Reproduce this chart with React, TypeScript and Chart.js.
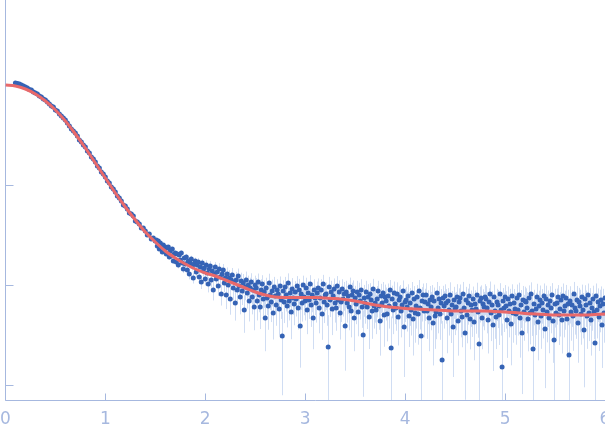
import React, { useEffect, useRef } from "react";
import { Chart, registerables } from "chart.js";

Chart.register(...registerables);

// scattering vector q (x axis)
const qData: number[] = [
  0.10,0.12,0.14,0.16,0.18,0.20,0.22,0.24,0.26,0.28,
  0.30,0.32,0.34,0.36,0.38,0.40,0.42,0.44,0.46,0.48,
  0.50,0.52,0.54,0.56,0.58,0.60,0.62,0.64,0.66,0.68,
  0.70,0.72,0.74,0.76,0.78,0.80,0.82,0.84,0.86,0.88,
  0.90,0.92,0.94,0.96,0.98,1.00,1.02,1.04,1.06,1.08,
  1.10,1.12,1.14,1.16,1.18,1.20,1.22,1.24,1.26,1.28,
  1.30,1.32,1.34,1.36,1.38,1.40,1.42,1.44,1.46,1.48,
  1.50,
  1.51,1.52,1.53,1.54,1.55,1.56,1.57,1.58,1.59,1.60,
  1.61,1.62,1.63,1.64,1.65,1.66,1.67,1.68,1.69,1.70,
  1.71,1.72,1.73,1.74,1.75,1.76,1.77,1.78,1.79,1.80,
  1.81,1.82,1.83,1.84,1.85,1.86,1.87,1.88,1.89,1.90,
  1.91,1.92,1.93,1.94,1.95,1.96,1.97,1.98,1.99,2.00,
  2.01,2.02,2.03,2.04,2.05,2.06,2.07,2.08,2.09,2.10,
  2.11,2.12,2.13,2.14,2.15,2.16,2.17,2.18,2.19,2.20,
  2.21,2.22,2.23,2.24,2.25,2.26,2.27,2.28,2.29,2.30,
  2.31,2.32,2.33,2.34,2.35,2.36,2.37,2.38,2.39,2.40,
  2.41,2.42,2.43,2.44,2.45,2.46,2.47,2.48,2.49,2.50,
  2.51,2.52,2.53,2.54,2.55,2.56,2.57,2.58,2.59,2.60,
  2.61,2.62,2.63,2.64,2.65,2.66,2.67,2.68,2.69,2.70,
  2.71,2.72,2.73,2.74,2.75,2.76,2.77,2.78,2.79,2.80,
  2.81,2.82,2.83,2.84,2.85,2.86,2.87,2.88,2.89,2.90,
  2.91,2.92,2.93,2.94,2.95,2.96,2.97,2.98,2.99,3.00,
  3.01,3.02,3.03,3.04,3.05,3.06,3.07,3.08,3.09,3.10,
  3.11,3.12,3.13,3.14,3.15,3.16,3.17,3.18,3.19,3.20,
  3.21,3.22,3.23,3.24,3.25,3.26,3.27,3.28,3.29,3.30,
  3.31,3.32,3.33,3.34,3.35,3.36,3.37,3.38,3.39,3.40,
  3.41,3.42,3.43,3.44,3.45,3.46,3.47,3.48,3.49,3.50,
  3.51,3.52,3.53,3.54,3.55,3.56,3.57,3.58,3.59,3.60,
  3.61,3.62,3.63,3.64,3.65,3.66,3.67,3.68,3.69,3.70,
  3.71,3.72,3.73,3.74,3.75,3.76,3.77,3.78,3.79,3.80,
  3.81,3.82,3.83,3.84,3.85,3.86,3.87,3.88,3.89,3.90,
  3.91,3.92,3.93,3.94,3.95,3.96,3.97,3.98,3.99,4.00,
  4.01,4.02,4.03,4.04,4.05,4.06,4.07,4.08,4.09,4.10,
  4.11,4.12,4.13,4.14,4.15,4.16,4.17,4.18,4.19,4.20,
  4.21,4.22,4.23,4.24,4.25,4.26,4.27,4.28,4.29,4.30,
  4.31,4.32,4.33,4.34,4.35,4.36,4.37,4.38,4.39,4.40,
  4.41,4.42,4.43,4.44,4.45,4.46,4.47,4.48,4.49,4.50,
  4.51,4.52,4.53,4.54,4.55,4.56,4.57,4.58,4.59,4.60,
  4.61,4.62,4.63,4.64,4.65,4.66,4.67,4.68,4.69,4.70,
  4.71,4.72,4.73,4.74,4.75,4.76,4.77,4.78,4.79,4.80,
  4.81,4.82,4.83,4.84,4.85,4.86,4.87,4.88,4.89,4.90,
  4.91,4.92,4.93,4.94,4.95,4.96,4.97,4.98,4.99,5.00,
  5.01,5.02,5.03,5.04,5.05,5.06,5.07,5.08,5.09,5.10,
  5.11,5.12,5.13,5.14,5.15,5.16,5.17,5.18,5.19,5.20,
  5.21,5.22,5.23,5.24,5.25,5.26,5.27,5.28,5.29,5.30,
  5.31,5.32,5.33,5.34,5.35,5.36,5.37,5.38,5.39,5.40,
  5.41,5.42,5.43,5.44,5.45,5.46,5.47,5.48,5.49,5.50,
  5.51,5.52,5.53,5.54,5.55,5.56,5.57,5.58,5.59,5.60,
  5.61,5.62,5.63,5.64,5.65,5.66,5.67,5.68,5.69,5.70,
  5.71,5.72,5.73,5.74,5.75,5.76,5.77,5.78,5.79,5.80,
  5.81,5.82,5.83,5.84,5.85,5.86,5.87,5.88,5.89,5.90,
  5.91,5.92,5.93,5.94,5.95,5.96,5.97,5.98,5.99,6.00,
];

// log10 intensity of each measured point
const logIntensity: number[] = [
  0.02,0.015,0.01,0.0,-0.01,-0.02,-0.03,-0.045,-0.05,-0.07,
  -0.08,-0.09,-0.11,-0.12,-0.14,-0.15,-0.17,-0.19,-0.21,-0.22,
  -0.25,-0.26,-0.29,-0.31,-0.33,-0.35,-0.38,-0.41,-0.44,-0.46,
  -0.48,-0.51,-0.55,-0.57,-0.60,-0.62,-0.66,-0.68,-0.72,-0.74,
  -0.77,-0.81,-0.83,-0.87,-0.89,-0.92,-0.96,-0.98,-1.02,-1.04,
  -1.07,-1.11,-1.13,-1.16,-1.20,-1.21,-1.24,-1.28,-1.29,-1.31,
  -1.36,-1.37,-1.39,-1.43,-1.43,-1.46,-1.50,-1.49,-1.54,-1.53,
  -1.56,
  -1.55,-1.61,-1.56,-1.64,-1.58,-1.60,-1.67,-1.60,-1.65,-1.62,
  -1.69,-1.63,-1.62,-1.72,-1.66,-1.71,-1.64,-1.76,-1.69,-1.68,
  -1.77,-1.69,-1.80,-1.70,-1.75,-1.68,-1.78,-1.84,-1.73,-1.79,
  -1.72,-1.85,-1.76,-1.89,-1.78,-1.74,-1.81,-1.93,-1.79,-1.76,
  -1.87,-1.80,-1.77,-1.92,-1.82,-1.97,-1.78,-1.86,-1.83,-1.94,
  -1.80,-1.88,-1.99,-1.84,-1.81,-1.95,-1.86,-2.05,-1.89,-1.82,
  -1.94,-1.87,-2.01,-1.84,-1.92,-2.09,-1.89,-1.85,-1.98,-1.93,
  -2.10,-1.89,-2.00,-1.93,-2.14,-1.95,-1.90,-2.03,-1.97,-2.18,
  -1.95,-2.05,-1.91,-2.01,-2.12,-1.96,-2.06,-1.98,-2.25,-2.02,
  -1.95,-2.08,-2.00,-2.16,-2.03,-1.97,-2.12,-2.05,-2.22,-2.00,
  -2.03,-2.16,-1.97,-2.10,-2.22,-2.05,-1.99,-2.14,-2.07,-2.33,
  -2.03,-2.13,-2.21,-1.98,-2.10,-2.17,-2.06,-2.28,-2.02,-2.11,
  -2.20,-2.05,-2.09,-2.24,-2.01,-2.15,-2.51,-2.06,-2.17,-2.02,
  -2.10,-2.21,-1.98,-2.16,-2.08,-2.27,-2.04,-2.13,-2.19,-2.07,
  -2.14,-2.01,-2.23,-2.05,-2.41,-2.09,-2.18,-2.00,-2.12,-2.16,
  -2.03,-2.25,-2.08,-2.15,-1.99,-2.20,-2.10,-2.33,-2.05,-2.13,
  -2.18,-2.08,-2.03,-2.23,-2.13,-2.05,-2.29,-1.99,-2.17,-2.10,
  -2.09,-2.20,-2.62,-2.02,-2.15,-2.07,-2.24,-2.11,-2.04,-2.18,
  -2.23,-2.01,-2.15,-2.07,-2.28,-2.17,-2.04,-2.14,-2.09,-2.41,
  -2.07,-2.18,-2.11,-2.22,-2.02,-2.26,-2.10,-2.06,-2.33,-2.13,
  -2.19,-2.07,-2.27,-2.10,-2.16,-2.05,-2.22,-2.50,-2.13,-2.18,
  -2.07,-2.22,-2.12,-2.32,-2.09,-2.15,-2.26,-2.04,-2.21,-2.18,
  -2.25,-2.14,-2.06,-2.21,-2.36,-2.11,-2.18,-2.08,-2.30,-2.12,
  -2.16,-2.29,-2.11,-2.21,-2.05,-2.63,-2.14,-2.25,-2.08,-2.19,
  -2.23,-2.09,-2.32,-2.15,-2.12,-2.26,-2.20,-2.06,-2.42,-2.17,
  -2.15,-2.22,-2.11,-2.31,-2.18,-2.25,-2.08,-2.34,-2.14,-2.28,
  -2.21,-2.12,-2.29,-2.06,-2.23,-2.51,-2.16,-2.10,-2.26,-2.17,
  -2.10,-2.26,-2.19,-2.33,-2.15,-2.22,-2.12,-2.38,-2.16,-2.31,
  -2.27,-2.08,-2.23,-2.14,-2.29,-2.18,-2.75,-2.13,-2.21,-2.11,
  -2.18,-2.33,-2.16,-2.25,-2.10,-2.29,-2.20,-2.42,-2.15,-2.24,
  -2.22,-2.12,-2.36,-2.17,-2.13,-2.26,-2.32,-2.09,-2.23,-2.48,
  -2.15,-2.30,-2.18,-2.11,-2.34,-2.20,-2.25,-2.14,-2.37,-2.19,
  -2.24,-2.10,-2.27,-2.59,-2.16,-2.13,-2.33,-2.19,-2.22,-2.12,
  -2.14,-2.23,-2.35,-2.17,-2.09,-2.28,-2.20,-2.40,-2.12,-2.26,
  -2.32,-2.17,-2.20,-2.30,-2.09,-2.25,-2.82,-2.16,-2.23,-2.12,
  -2.21,-2.35,-2.14,-2.26,-2.19,-2.39,-2.11,-2.28,-2.18,-2.24,
  -2.29,-2.13,-2.25,-2.10,-2.33,-2.20,-2.48,-2.15,-2.27,-2.16,
  -2.17,-2.23,-2.34,-2.13,-2.28,-2.09,-2.26,-2.64,-2.19,-2.30,
  -2.24,-2.12,-2.37,-2.21,-2.15,-2.31,-2.18,-2.25,-2.11,-2.44,
  -2.14,-2.27,-2.20,-2.33,-2.16,-2.23,-2.10,-2.36,-2.55,-2.19,
  -2.28,-2.18,-2.12,-2.30,-2.24,-2.15,-2.35,-2.11,-2.26,-2.21,
  -2.13,-2.34,-2.19,-2.70,-2.16,-2.27,-2.20,-2.31,-2.09,-2.23,
  -2.26,-2.15,-2.38,-2.17,-2.21,-2.29,-2.12,-2.25,-2.45,-2.14,
  -2.20,-2.31,-2.10,-2.28,-2.18,-2.35,-2.23,-2.14,-2.27,-2.58,
  -2.11,-2.25,-2.17,-2.32,-2.21,-2.15,-2.40,-2.19,-2.28,-2.13,
];

// absolute intensity uncertainty of each point (x 1e-3)
const sigmaMilli: number[] = [
  9,9,9,8,8,8,8,8,7,7,
  7,7,7,6,6,6,6,5,5,5,
  5,5,4,4,4,4,3,3,3,3,
  3,3,2,2,2,2,2,2,2,1.5,
  1.5,1.5,1.5,1.5,1.2,1.2,1.2,1.2,1,1,
  1,1,1,1,0.9,0.9,0.9,0.9,0.9,0.9,
  0.8,0.8,0.8,0.8,0.8,0.8,0.8,0.8,0.8,0.8,
  0.8,
  1.0,0.9,1.0,1.0,0.9,1.0,1.1,1.0,1.0,1.0,
  1.1,1.0,1.1,1.1,1.2,1.1,1.0,1.1,1.2,1.1,
  1.2,1.3,1.2,1.2,1.3,1.2,1.2,1.3,1.2,1.3,
  1.4,1.3,1.4,1.5,1.4,1.4,1.5,1.4,1.3,1.4,
  1.6,1.5,1.6,1.7,1.6,1.6,1.5,1.7,1.6,1.6,
  1.8,1.7,1.8,1.9,1.8,1.8,1.7,1.9,1.8,1.8,
  2.0,1.9,2.0,2.1,2.0,1.9,2.0,2.1,2.0,2.0,
  2.2,2.1,2.2,2.3,2.2,2.1,2.2,2.3,2.2,2.2,
  2.3,2.4,2.3,2.4,2.5,2.3,2.4,2.4,2.3,2.5,
  2.4,2.5,2.4,2.6,2.5,2.4,2.5,2.6,2.5,2.4,
  2.4,2.5,2.3,2.6,2.4,2.5,2.3,2.4,2.6,2.5,
  2.5,2.4,2.6,2.5,2.3,2.5,2.6,2.4,2.5,2.4,
  2.4,2.5,2.3,2.6,2.4,2.5,2.3,2.4,2.6,2.5,
  2.5,2.4,2.6,2.5,2.3,2.5,2.6,2.4,2.5,2.4,
  2.4,2.5,2.3,2.6,2.4,2.5,2.3,2.4,2.6,2.5,
  2.5,2.4,2.6,2.5,2.3,2.5,2.6,2.4,2.5,2.4,
  2.4,2.5,2.3,2.6,2.4,2.5,2.3,2.4,2.6,2.5,
  2.5,2.4,2.6,2.5,2.3,2.5,2.6,2.4,2.5,2.4,
  2.4,2.5,2.3,2.6,2.4,2.5,2.3,2.4,2.6,2.5,
  2.5,2.4,2.6,2.5,2.3,2.5,2.6,2.4,2.5,2.4,
  2.4,2.5,2.3,2.6,2.4,2.5,2.3,2.4,2.6,2.5,
  2.5,2.4,2.6,2.5,2.3,2.5,2.6,2.4,2.5,2.4,
  2.4,2.5,2.3,2.6,2.4,2.5,2.3,2.4,2.6,2.5,
  2.5,2.4,2.6,2.5,2.3,2.5,2.6,2.4,2.5,2.4,
  2.4,2.5,2.3,2.6,2.4,2.5,2.3,2.4,2.6,2.5,
  2.5,2.6,2.4,2.5,2.7,2.5,2.4,2.6,2.5,2.6,
  2.5,2.4,2.6,2.5,2.3,2.5,2.6,2.4,2.5,2.4,
  2.5,2.6,2.4,2.5,2.7,2.5,2.4,2.6,2.5,2.6,
  2.5,2.4,2.6,2.5,2.3,2.5,2.6,2.4,2.5,2.4,
  2.5,2.6,2.4,2.5,2.7,2.5,2.4,2.6,2.5,2.6,
  2.5,2.6,2.4,2.5,2.7,2.5,2.4,2.6,2.5,2.6,
  2.5,2.4,2.6,2.5,2.3,2.5,2.6,2.4,2.5,2.4,
  2.5,2.6,2.4,2.5,2.7,2.5,2.4,2.6,2.5,2.6,
  2.5,2.6,2.4,2.5,2.7,2.5,2.4,2.6,2.5,2.6,
  2.5,2.4,2.6,2.5,2.3,2.5,2.6,2.4,2.5,2.4,
  2.5,2.6,2.4,2.5,2.7,2.5,2.4,2.6,2.5,2.6,
  2.6,2.7,2.5,2.6,2.8,2.6,2.5,2.7,2.6,2.7,
  2.5,2.6,2.4,2.5,2.7,2.5,2.4,2.6,2.5,2.6,
  2.6,2.7,2.5,2.6,2.8,2.6,2.5,2.7,2.6,2.7,
  2.6,2.7,2.5,2.6,2.8,2.6,2.5,2.7,2.6,2.7,
  2.5,2.6,2.4,2.5,2.7,2.5,2.4,2.6,2.5,2.6,
  2.6,2.7,2.5,2.6,2.8,2.6,2.5,2.7,2.6,2.7,
  2.6,2.7,2.5,2.6,2.8,2.6,2.5,2.7,2.6,2.7,
  2.5,2.6,2.4,2.5,2.7,2.5,2.4,2.6,2.5,2.6,
  2.6,2.7,2.5,2.6,2.8,2.6,2.5,2.7,2.6,2.7,
];

// fitted model curve
const fitQ: number[] = [
  0.0,0.1,0.2,0.3,0.4,0.5,0.6,0.7,0.8,0.9,
  1.0,1.1,1.2,1.3,1.4,1.5,1.6,1.7,1.8,1.9,
  2.0,2.1,2.2,2.3,2.4,2.5,2.6,2.7,2.8,2.9,
  3.0,3.1,3.2,3.3,3.4,3.5,3.6,3.7,3.8,3.9,
  4.0,4.1,4.2,4.3,4.4,4.5,4.6,4.7,4.8,4.9,
  5.0,5.1,5.2,5.3,5.4,5.5,5.6,5.7,5.8,5.9,
  6.0,
];
const fitLogIntensity: number[] = [
  0,-0.01,-0.04,-0.09,-0.16,-0.25,-0.36,-0.49,-0.63,-0.78,
  -0.93,-1.08,-1.22,-1.35,-1.47,-1.57,-1.66,-1.73,-1.79,-1.84,
  -1.88,-1.91,-1.95,-1.99,-2.03,-2.07,-2.10,-2.12,-2.125,-2.125,
  -2.125,-2.125,-2.13,-2.135,-2.145,-2.16,-2.18,-2.20,-2.215,-2.225,
  -2.235,-2.24,-2.245,-2.25,-2.255,-2.26,-2.26,-2.26,-2.26,-2.265,
  -2.27,-2.275,-2.285,-2.29,-2.295,-2.30,-2.30,-2.30,-2.30,-2.295,
  -2.29,
];

const xTickValues: number[] = [0, 1, 2, 3, 4, 5, 6];
const yTickValues: number[] = [-3, -2, -1, 0];

const X_MIN = 0;
const X_MAX = 6;
const Y_MIN = -3.15;
const Y_MAX = 0.85;

const AXIS_COLOR = "#a6b8df";
const POINT_COLOR = "#3563b5";
const ERR_COLOR = "rgba(188,206,238,0.7)";
const FIT_COLOR = "#e9696a";

const axesPlugin = {
  id: "axesAndErrors",
  beforeDatasetsDraw(chart: any) {
    const { ctx, chartArea, scales } = chart;
    const xs = scales.x;
    const ys = scales.y;
    ctx.save();
    // error bars
    ctx.beginPath();
    ctx.rect(chartArea.left, chartArea.top, chartArea.right - chartArea.left, chartArea.bottom - chartArea.top);
    ctx.clip();
    ctx.strokeStyle = ERR_COLOR;
    ctx.lineWidth = 1;
    ctx.beginPath();
    for (let i = 0; i < qData.length; i++) {
      const inten = Math.pow(10, logIntensity[i]);
      const s = sigmaMilli[i] * 1e-3;
      const hi = Math.log10(inten + s);
      const lo = inten - s > 0 ? Math.log10(inten - s) : ys.min;
      const px = Math.round(xs.getPixelForValue(qData[i])) + 0.5;
      ctx.moveTo(px, ys.getPixelForValue(hi));
      ctx.lineTo(px, ys.getPixelForValue(lo));
    }
    ctx.stroke();
    ctx.restore();

    // axes with inward tick marks
    ctx.save();
    ctx.strokeStyle = AXIS_COLOR;
    ctx.lineWidth = 1;
    const left = Math.round(chartArea.left) + 0.5;
    const bottom = Math.round(chartArea.bottom) + 0.5;
    ctx.beginPath();
    ctx.moveTo(left, chartArea.top);
    ctx.lineTo(left, bottom);
    ctx.moveTo(left, bottom);
    ctx.lineTo(chartArea.right + 20, bottom);
    xTickValues.forEach((v) => {
      const px = Math.round(xs.getPixelForValue(v)) + 0.5;
      ctx.moveTo(px, bottom);
      ctx.lineTo(px, bottom - 7);
    });
    yTickValues.forEach((v) => {
      const py = Math.round(ys.getPixelForValue(v)) + 0.5;
      ctx.moveTo(left, py);
      ctx.lineTo(left + 8, py);
    });
    ctx.stroke();
    ctx.restore();
  },
};

export default function App() {
  const canvasRef = useRef<HTMLCanvasElement>(null);

  useEffect(() => {
    document.body.style.margin = "0";
    const canvas = canvasRef.current;
    if (!canvas) return;

    const points = qData.map((q, i) => ({ x: q, y: logIntensity[i] }));
    const fit = fitQ.map((q, i) => ({ x: q, y: fitLogIntensity[i] }));

    const chart = new Chart(canvas, {
      type: "scatter",
      data: {
        datasets: [
          {
            type: "line",
            label: "fit",
            data: fit,
            borderColor: FIT_COLOR,
            borderWidth: 3,
            pointRadius: 0,
            fill: false,
            cubicInterpolationMode: "monotone",
            order: 0,
          } as any,
          {
            type: "scatter",
            label: "data",
            data: points,
            backgroundColor: POINT_COLOR,
            borderWidth: 0,
            pointRadius: 2.5,
            order: 1,
          } as any,
        ],
      },
      options: {
        animation: false,
        responsive: false,
        devicePixelRatio: 1,
        layout: { autoPadding: false, padding: { left: 0, right: 35, top: 0, bottom: 0 } },
        plugins: {
          legend: { display: false },
          tooltip: { enabled: false },
        },
        scales: {
          x: {
            type: "linear",
            min: X_MIN,
            max: X_MAX,
            afterFit: (s: any) => {
              s.height = 38;
            },
            afterBuildTicks: (s: any) => {
              s.ticks = xTickValues.map((v) => ({ value: v }));
            },
            grid: { display: false, drawTicks: false },
            border: { display: false },
            ticks: {
              color: AXIS_COLOR,
              padding: 0,
              maxRotation: 0,
              autoSkip: false,
              font: { family: "DejaVu Sans", size: 17, lineHeight: 2.25 },
            },
          },
          y: {
            type: "linear",
            min: Y_MIN,
            max: Y_MAX,
            afterFit: (s: any) => {
              s.width = 5;
            },
            grid: { display: false, drawTicks: false },
            border: { display: false },
            ticks: { display: false },
          },
        },
      } as any,
      plugins: [axesPlugin],
    });

    return () => chart.destroy();
  }, []);

  return (
    <div style={{ width: 605, height: 438, overflow: "hidden" }}>
      <canvas ref={canvasRef} width={640} height={438} style={{ display: "block" }} />
    </div>
  );
}
